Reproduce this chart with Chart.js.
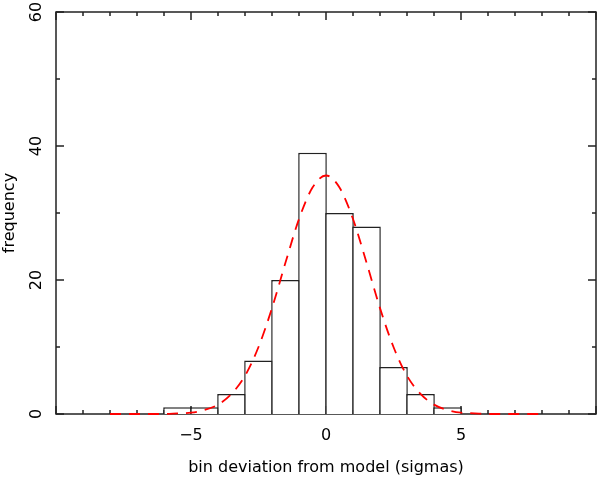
<!DOCTYPE html>
<html>
<head>
<meta charset="utf-8">
<script src="https://cdn.jsdelivr.net/npm/chart.js@4"></script>
<style>
  html, body { margin: 0; padding: 0; background: #fff; }
  #wrap { width: 598px; height: 480px; }
</style>
</head>
<body>
<div id="wrap"><canvas id="hist" width="598" height="480"></canvas></div>
<script>
// histogram bins (centre of each unit-wide bin) and counts
const binCenters = [-5.5, -4.5, -3.5, -2.5, -1.5, -0.5, 0.5, 1.5, 2.5, 3.5, 4.5];
const binCounts = [1, 1, 3, 8, 20, 39, 30, 28, 7, 3, 1];

// dashed model curve
const curveX = [-8, -7.5, -7, -6.5, -6, -5.5, -5, -4.5, -4, -3.5, -3, -2.5, -2, -1.5, -1, -0.5, 0,
                0.5, 1, 1.5, 2, 2.5, 3, 3.5, 4, 4.5, 5, 5.5, 6, 6.5, 7, 7.5, 8];
const curveY = [0, 0, 0, 0, 0, 0.1, 0.2, 0.6, 1.4, 3.0, 5.7, 10.0, 15.8, 22.6, 29.1, 33.8, 35.6,
                33.8, 29.1, 22.6, 15.8, 10.0, 5.7, 3.0, 1.4, 0.6, 0.2, 0.1, 0, 0, 0, 0, 0];

const xTickLabels = { "-5": "\u22125", "0": "0", "5": "5" };
const yTickLabels = { "0": "0", "20": "20", "40": "40", "60": "60" };

const FONT = "'DejaVu Sans', sans-serif";
const INK = '#222';

// frame box with inward ticks on all four sides, rotated y labels
const framePlugin = {
    id: 'frame',
    beforeDatasetsDraw(chart) {
        const {ctx, chartArea: a, scales: {x, y}} = chart;
        ctx.save();
        ctx.strokeStyle = INK;
        ctx.lineWidth = 1.5;
        ctx.strokeRect(a.left, a.top, a.right - a.left, a.bottom - a.top);
        ctx.beginPath();
        x.ticks.forEach(t => {
            const px = x.getPixelForValue(t.value);
            const len = t.value % 5 === 0 ? 8 : 4;
            ctx.moveTo(px, a.bottom); ctx.lineTo(px, a.bottom - len);
            ctx.moveTo(px, a.top); ctx.lineTo(px, a.top + len);
        });
        y.ticks.forEach(t => {
            const py = y.getPixelForValue(t.value);
            const len = t.value % 20 === 0 ? 8 : 4;
            ctx.moveTo(a.left, py); ctx.lineTo(a.left + len, py);
            ctx.moveTo(a.right, py); ctx.lineTo(a.right - len, py);
        });
        ctx.stroke();

        ctx.fillStyle = '#000';
        ctx.font = '16px ' + FONT;
        ctx.textAlign = 'center';
        ctx.textBaseline = 'middle';
        y.ticks.forEach(t => {
            const lbl = yTickLabels[String(t.value)];
            if (!lbl) return;
            ctx.save();
            ctx.translate(37, y.getPixelForValue(t.value));
            ctx.rotate(-Math.PI / 2);
            ctx.fillText(lbl, 0, 0);
            ctx.restore();
        });
        ctx.restore();
    }
};

new Chart(document.getElementById('hist'), {
    type: 'bar',
    data: {
        datasets: [{
            type: 'line',
            label: 'model',
            data: curveX.map((v, i) => ({x: v, y: curveY[i]})),
            borderColor: '#ff0000',
            borderWidth: 1.8,
            borderDash: [11, 8],
            pointRadius: 0,
            cubicInterpolationMode: 'monotone',
            fill: false,
            clip: false,
            order: 0
        }, {
            label: 'frequency',
            data: binCenters.map((v, i) => ({x: v, y: binCounts[i]})),
            backgroundColor: '#fff',
            borderColor: INK,
            borderWidth: { top: 1.5, left: 1.5, right: 1.5, bottom: 0 },
            borderSkipped: false,
            // slight overlap so neighbouring bars share a single edge line
            barPercentage: 1.06,
            categoryPercentage: 1,
            order: 1
        }]
    },
    options: {
        responsive: false,
        animation: false,
        events: [],
        layout: { padding: { top: 12, right: 2, left: 0, bottom: 0 } },
        plugins: { legend: { display: false }, tooltip: { enabled: false } },
        scales: {
            x: {
                type: 'linear',
                offset: false,
                min: -10,
                max: 10,
                grid: { display: false, drawTicks: false },
                border: { display: false },
                ticks: {
                    stepSize: 1,
                    autoSkip: false,
                    maxRotation: 0,
                    padding: 12,
                    color: '#000',
                    font: { family: FONT, size: 16 },
                    callback: v => xTickLabels[String(v)] || ''
                },
                title: {
                    display: true,
                    text: 'bin deviation from model (sigmas)',
                    color: '#000',
                    font: { family: FONT, size: 16 },
                    padding: { top: 0, bottom: 3 }
                },
                afterFit: s => { s.height = 66; s.paddingLeft = 0; s.paddingRight = 0; }
            },
            y: {
                min: 0,
                max: 60,
                grid: { display: false, drawTicks: false },
                border: { display: false },
                ticks: { stepSize: 10, display: false },
                title: {
                    display: true,
                    text: 'frequency',
                    color: '#000',
                    font: { family: FONT, size: 16 },
                    padding: { top: 0, bottom: 2 }
                },
                afterFit: s => { s.width = 56; }
            }
        }
    },
    plugins: [framePlugin]
});
</script>
</body>
</html>
